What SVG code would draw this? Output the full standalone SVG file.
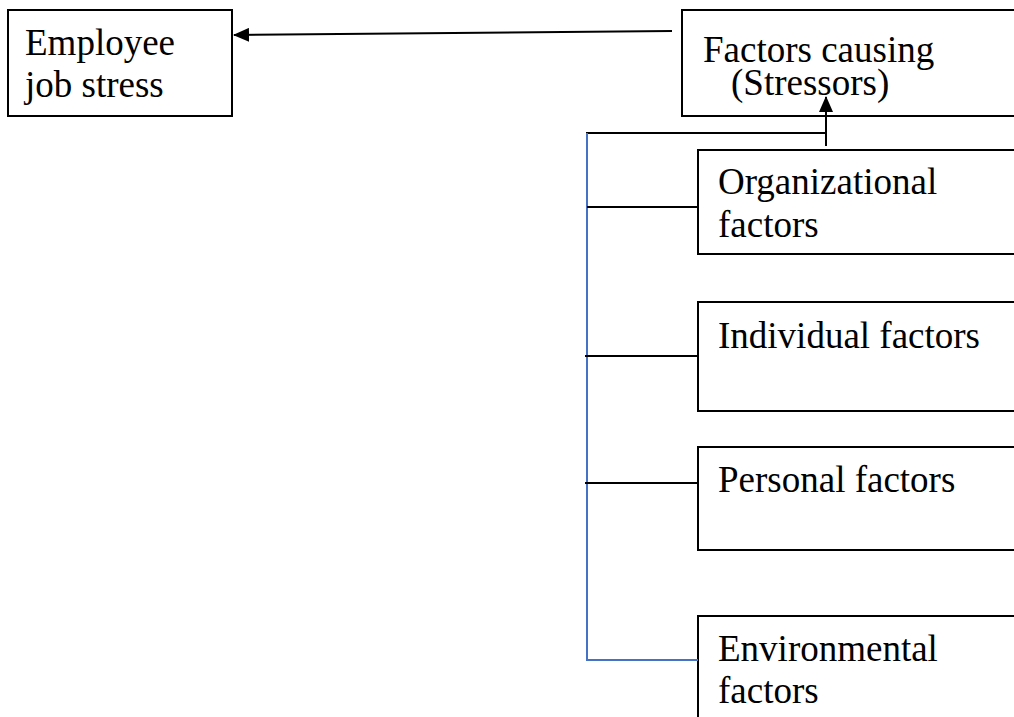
<svg xmlns="http://www.w3.org/2000/svg" width="1014" height="717" viewBox="0 0 1014 717">
<style>
.box{fill:#fff;stroke:#000;stroke-width:2}
.t{font-family:"Liberation Serif","Times New Roman",serif;font-size:37px;fill:#000}
.k{stroke:#000;stroke-width:2;fill:none}
.b{stroke:#4472C4;stroke-width:2;fill:none}
</style>
<defs>
<marker id="ah" markerWidth="16" markerHeight="14" refX="15" refY="7" orient="auto" markerUnits="userSpaceOnUse">
<path d="M0,0 L16,7 L0,14 Z" fill="#000"/>
</marker>
</defs>
<g id="node-employee">
<rect class="box" x="8" y="10" width="224" height="106"/>
<text class="t" x="25" y="55">Employee</text>
<text class="t" x="25" y="97">job stress</text>
</g>
<g id="node-factors">
<rect class="box" x="682" y="10" width="350" height="106"/>
<text class="t" x="703" y="62">Factors causing</text>
<text class="t" x="731" y="95">(Stressors)</text>
</g>
<g id="node-organizational">
<rect class="box" x="698" y="150" width="340" height="104"/>
<text class="t" x="718" y="194">Organizational</text>
<text class="t" x="718" y="237">factors</text>
</g>
<g id="node-individual">
<rect class="box" x="698" y="302" width="340" height="109"/>
<text class="t" x="718" y="348">Individual factors</text>
</g>
<g id="node-personal">
<rect class="box" x="698" y="447" width="340" height="103"/>
<text class="t" x="718" y="492">Personal factors</text>
</g>
<g id="node-environmental">
<rect class="box" x="698" y="616" width="340" height="130"/>
<text class="t" x="718" y="661">Environmental</text>
<text class="t" x="718" y="703">factors</text>
</g>
<g id="connectors">
<line class="k" x1="672" y1="31" x2="234" y2="35" marker-end="url(#ah)"/>
<line class="k" x1="826" y1="146" x2="826" y2="97" marker-end="url(#ah)"/>
<line class="k" x1="586" y1="133" x2="826" y2="133"/>
<polyline class="b" points="587,133 587,660 698,660"/>
<line class="k" x1="587" y1="207" x2="698" y2="207"/>
<line class="k" x1="585" y1="356" x2="698" y2="356"/>
<line class="k" x1="585" y1="483" x2="698" y2="483"/>
</g>
</svg>
